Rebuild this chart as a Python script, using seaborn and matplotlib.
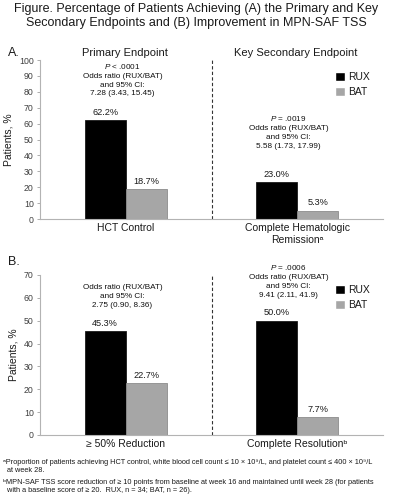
import matplotlib
matplotlib.use('Agg')
import matplotlib.pyplot as plt
import pandas as pd
import seaborn as sns

# Chart values
groups = ['RUX', 'BAT']
cats_a = ['HCT Control', 'Complete Hematologic\nRemissionᵃ']
rux_a = [62.2, 23.0]
bat_a = [18.7, 5.3]
cats_b = ['≥ 50% Reduction', 'Complete Resolutionᵇ']
rux_b = [45.3, 50.0]
bat_b = [22.7, 7.7]

stats_a = ['$\\it{P}$ < .0001\nOdds ratio (RUX/BAT)\nand 95% CI:\n7.28 (3.43, 15.45)',
           '$\\it{P}$ = .0019\nOdds ratio (RUX/BAT)\nand 95% CI:\n5.58 (1.73, 17.99)']
stats_b = ['Odds ratio (RUX/BAT)\nand 95% CI:\n2.75 (0.90, 8.36)',
           '$\\it{P}$ = .0006\nOdds ratio (RUX/BAT)\nand 95% CI:\n9.41 (2.11, 41.9)']

title = ('Figure. Percentage of Patients Achieving (A) the Primary and Key\n'
         'Secondary Endpoints and (B) Improvement in MPN-SAF TSS')
footnotes = [
    'ᵃProportion of patients achieving HCT control, white blood cell count ≤ 10 × 10⁹/L, '
    'and platelet count ≤ 400 × 10⁹/L',
    '  at week 28.',
    'ᵇMPN-SAF TSS score reduction of ≥ 10 points from baseline at week 16 and maintained until week 28 (for patients',
    '  with a baseline score of ≥ 20.  RUX, n = 34; BAT, n = 26).',
]
foot_y = [462, 471, 482, 491]

sns.set_style('white')
plt.rcParams['font.family'] = ['Liberation Sans', 'DejaVu Sans']
plt.rcParams['mathtext.fontset'] = 'custom'
plt.rcParams['mathtext.rm'] = 'Liberation Sans'
plt.rcParams['mathtext.it'] = 'Liberation Sans:italic'
plt.rcParams['mathtext.default'] = 'regular'

palette = {'RUX': 'black', 'BAT': '#a6a6a6'}
edges = {'RUX': '#1a1a1a', 'BAT': '#8c8c8c'}

fig = plt.figure(figsize=(3.93, 4.99), dpi=100)
ax_a = fig.add_axes([0.1018, 0.5611, 0.8728, 0.3186])
ax_b = fig.add_axes([0.1018, 0.1283, 0.8728, 0.3206])


def draw_panel(ax, cats, rux, bat, stats, ymax, stat_y, leg_y):
    df = pd.DataFrame({
        'cat': cats * 2,
        'group': ['RUX'] * len(cats) + ['BAT'] * len(cats),
        'val': rux + bat,
    })
    sns.barplot(data=df, x='cat', y='val', hue='group', hue_order=groups,
                palette=palette, width=0.48, ax=ax, legend=True)
    for cont, g in zip(ax.containers, groups):
        for p in cont:
            p.set_edgecolor(edges[g])
            p.set_linewidth(0.6)
        ax.bar_label(cont, fmt='%.1f%%', padding=2.5, fontsize=6.6, color='#1a1a1a')
    ax.set_xlim(-0.5, 1.5)
    ax.set_ylim(0, ymax)
    ax.set_yticks(range(0, ymax + 1, 10))
    ax.set_xlabel('')
    ax.set_ylabel('Patients, %', fontsize=7.5, color='#1a1a1a', labelpad=4)
    ax.tick_params(axis='y', labelsize=6.3, colors='#404040', length=2.5, width=0.6,
                   direction='out', left=True, pad=2, color='#a0a0a0')
    ax.tick_params(axis='x', labelsize=7.5, colors='#1a1a1a', length=0, pad=3)
    for s in ['top', 'right']:
        ax.spines[s].set_visible(False)
    for s in ['left', 'bottom']:
        ax.spines[s].set_color('#b3b3b3')
        ax.spines[s].set_linewidth(0.8)
    ax.axvline(0.5, color='#333333', linestyle=(0, (3, 2)), linewidth=0.8)
    for i, (txt, sy) in enumerate(zip(stats, stat_y)):
        ax.text(i - 0.02 - 0.03 * i, sy, txt, ha='center', va='center', fontsize=5.9,
                linespacing=1.38, color='#111111')
    leg = ax.legend(loc='upper left', bbox_to_anchor=(0.86, leg_y), frameon=False,
                    fontsize=7.5, handlelength=0.95, handleheight=0.95,
                    handletextpad=0.3, labelspacing=0.5, borderpad=0, borderaxespad=0)
    for t in leg.get_texts():
        t.set_color('#1a1a1a')


draw_panel(ax_a, cats_a, rux_a, bat_a, stats_a, 100, [87.7, 54.7], 0.925)
draw_panel(ax_b, cats_b, rux_b, bat_b, stats_b, 70, [60.5, 67.5], 0.94)

fig.text(0.5, 0.993, title, ha='center', va='top', fontsize=9.0, linespacing=1.12, color='#1a1a1a')
fig.text(0.02, 1 - 53 / 499, 'A.', ha='left', va='center', fontsize=9, color='#1a1a1a')
fig.text(0.02, 1 - 262 / 499, 'B.', ha='left', va='center', fontsize=9, color='#1a1a1a')
fig.text(125 / 393, 1 - 53 / 499, 'Primary Endpoint', ha='center', va='center', fontsize=8, color='#1a1a1a')
fig.text(296 / 393, 1 - 53 / 499, 'Key Secondary Endpoint', ha='center', va='center', fontsize=8, color='#1a1a1a')
for line, fy in zip(footnotes, foot_y):
    fig.text(0.008, 1 - fy / 499, line, ha='left', va='center', fontsize=5.35, color='#1a1a1a')

fig.savefig('out.png', dpi=100)
